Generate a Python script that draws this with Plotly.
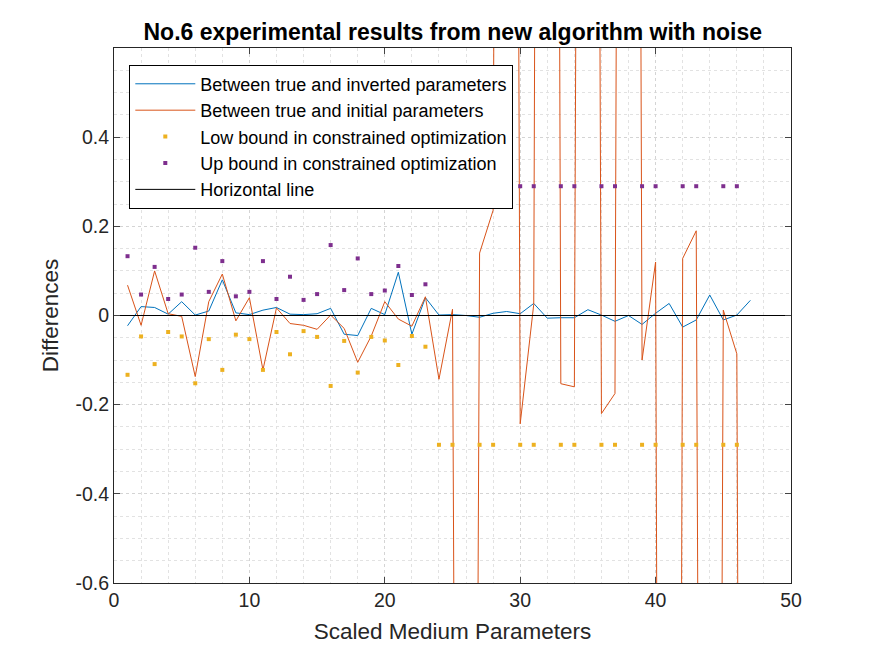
import plotly.graph_objects as go

# parameter index
x_params = list(range(1, 48))

# difference between true and inverted parameters
diff_inverted = [-0.023, 0.020, 0.018, 0.003, 0.031, 0.001, 0.010, 0.080, 0.006, 0.002,
                 0.012, 0.018, 0.003, 0.002, 0.004, 0.016, -0.042, -0.045, 0.016, 0.002,
                 0.097, -0.042, 0.040, 0.001, 0.002, 0.000, -0.004, 0.005, 0.009, 0.004,
                 0.027, -0.006, -0.005, -0.005, 0.013, 0.001, -0.013, 0.000, -0.020, 0.005,
                 0.027, -0.026, -0.010, 0.046, -0.010, 0.001, 0.034]

# difference between true and initial parameters (some far outside the view)
diff_initial = [0.068, -0.022, 0.100, 0.004, -0.002, -0.137, 0.031, 0.093, -0.012, 0.040,
                -0.122, 0.017, -0.018, -0.022, -0.031, 0.001, -0.029, -0.105, -0.046, 0.031,
                -0.008, -0.024, 0.042, -0.143, 0.014, -6.5, 0.140, 0.236, 8.0, -0.243,
                0.025, 9.0, -0.153, -0.160, 7.5, -0.220, -0.175, 8.5, -0.100, 0.120,
                -9.0, 0.128, 0.190, -7.0, 0.012, -0.086, -8.0]

# bounds used in the constrained optimization (None = no bound)
x_bounds = list(range(1, 47))
low_bound = [-0.133, -0.047, -0.109, -0.037, -0.047, -0.152, -0.053, -0.122, -0.043, -0.053,
             -0.122, -0.037, -0.087, -0.035, -0.048, -0.158, -0.057, -0.128, -0.048, -0.056,
             -0.111, -0.046, -0.070, -0.29, -0.29, None, -0.29, -0.29, None, -0.29,
             -0.29, None, -0.29, -0.29, None, -0.29, -0.29, None, -0.29, -0.29,
             None, -0.29, -0.29, None, -0.29, -0.29]
up_bound = [0.133, 0.047, 0.109, 0.037, 0.047, 0.152, 0.053, 0.122, 0.043, 0.053,
            0.122, 0.037, 0.087, 0.035, 0.048, 0.158, 0.057, 0.128, 0.048, 0.056,
            0.111, 0.046, 0.070, 0.29, 0.29, None, 0.29, 0.29, None, 0.29,
            0.29, None, 0.29, 0.29, None, 0.29, 0.29, None, 0.29, 0.29,
            None, 0.29, 0.29, None, 0.29, 0.29]

x_ticks = [0, 10, 20, 30, 40, 50]
y_ticks = [-0.6, -0.4, -0.2, 0, 0.2, 0.4]
y_tick_text = ["-0.6", "-0.4", "-0.2", "0", "0.2", "0.4"]

font = "Liberation Sans, Arial, sans-serif"

fig = go.Figure()
fig.add_trace(go.Scatter(x=x_params, y=diff_inverted, mode="lines",
                         line=dict(color="#0072BD", width=1),
                         name="Between true and inverted parameters"))
fig.add_trace(go.Scatter(x=x_params, y=diff_initial, mode="lines",
                         line=dict(color="#D95319", width=1),
                         name="Between true and initial parameters"))
fig.add_trace(go.Scatter(x=x_bounds, y=low_bound, mode="markers",
                         marker=dict(color="#EDB120", symbol="square", size=4),
                         name="Low bound in constrained optimization"))
fig.add_trace(go.Scatter(x=x_bounds, y=up_bound, mode="markers",
                         marker=dict(color="#7E2F8E", symbol="square", size=4),
                         name="Up bound in constrained optimization"))
fig.add_trace(go.Scatter(x=[0, 50], y=[0, 0], mode="lines",
                         line=dict(color="black", width=1),
                         name="Horizontal line"))

# page body has an 8px margin, so the figure is a little smaller
fig.update_layout(
    width=867, height=648,
    margin=dict(l=106, r=84, t=40, b=73),
    paper_bgcolor="white", plot_bgcolor="white",
    font=dict(family=font, size=19.5, color="#262626"),
    title=dict(text="<b>No.6 experimental results from new algorithm with noise</b>",
               x=0.513, xref="container", y=1 - 24 / 648, yref="container",
               xanchor="center", yanchor="middle",
               font=dict(size=23, color="black")),
    legend=dict(x=0.0226, y=0.969, xanchor="left", yanchor="top",
                bgcolor="white", bordercolor="black", borderwidth=1,
                font=dict(size=18, color="black"), itemwidth=60,
                tracegroupgap=0),
    showlegend=True,
)

fig.update_xaxes(
    range=[0, 50], tickvals=x_ticks, ticks="inside", ticklen=6,
    showline=True, linecolor="#262626", linewidth=1, mirror="ticks",
    showgrid=True, gridcolor="#d4d4d4", griddash="dot", gridwidth=1,
    minor=dict(tickvals=list(range(2, 50, 2)), showgrid=True,
               gridcolor="#e2e2e2", griddash="dot"),
    zeroline=False,
    title=dict(text="Scaled Medium Parameters", font=dict(size=22.5), standoff=12),
)
fig.update_yaxes(
    range=[-0.6, 0.6], tickvals=y_ticks, ticktext=y_tick_text,
    ticks="inside", ticklen=6,
    showline=True, linecolor="#262626", linewidth=1, mirror="ticks",
    showgrid=True, gridcolor="#d4d4d4", griddash="dot", gridwidth=1,
    minor=dict(dtick=0.05, showgrid=True, gridcolor="#e2e2e2", griddash="dot"),
    zeroline=False,
    title=dict(text="Differences", font=dict(size=22.5), standoff=10),
)

fig.write_html("out.html")
